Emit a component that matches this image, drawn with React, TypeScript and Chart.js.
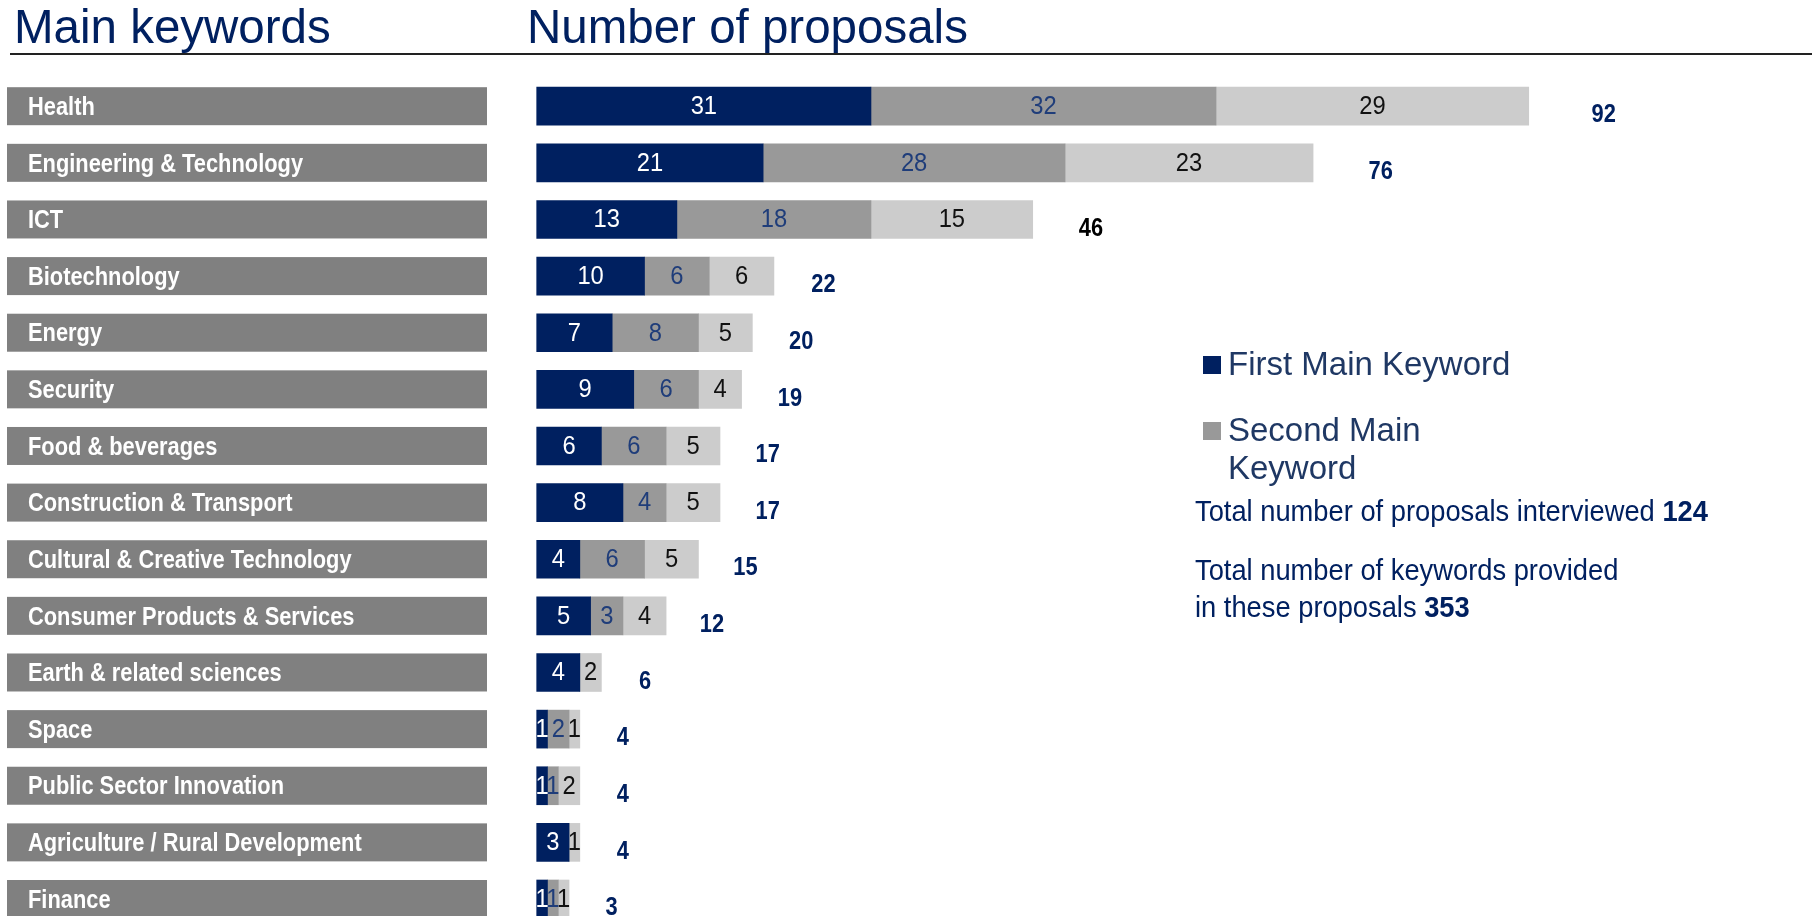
import React, { useEffect, useRef } from 'react';
import { Chart, registerables } from 'chart.js';

Chart.register(...registerables);

const categories = [
  'Health',
  'Engineering & Technology',
  'ICT',
  'Biotechnology',
  'Energy',
  'Security',
  'Food & beverages',
  'Construction & Transport',
  'Cultural & Creative Technology',
  'Consumer Products & Services',
  'Earth & related sciences',
  'Space',
  'Public Sector Innovation',
  'Agriculture / Rural Development',
  'Finance',
];
const firstKeyword = [31, 21, 13, 10, 7, 9, 6, 8, 4, 5, 4, 1, 1, 3, 1];
const secondKeyword = [32, 28, 18, 6, 8, 6, 6, 4, 6, 3, 0, 2, 1, 0, 1];
const thirdKeyword = [29, 23, 15, 6, 5, 4, 5, 5, 5, 4, 2, 1, 2, 1, 1];
const totals = [92, 76, 46, 22, 20, 19, 17, 17, 15, 12, 6, 4, 4, 4, 3];
const seriesNames = ['First Main Keyword', 'Second Main Keyword', 'Third Main Keyword'];
const totalProposals = 124;
const totalKeywords = 353;

const NAVY = '#002060';
const GRAY2 = '#999999';
const GRAY3 = '#cccccc';
const SANS = "'Liberation Sans', Arial, sans-serif";
const NARROW_X = 0.84;
const BLACK_TOTAL_INDEX = 2;

function fillScaled(ctx: CanvasRenderingContext2D, text: string, x: number, y: number, sx: number) {
  ctx.save();
  ctx.translate(x, y);
  ctx.scale(sx, 1);
  ctx.fillText(text, 0, 0);
  ctx.restore();
}

const overlayPlugin = {
  id: 'overlay',
  beforeDatasetsDraw(chart: any) {
    const ctx = chart.ctx as CanvasRenderingContext2D;
    const y = chart.scales.y;
    ctx.save();
    categories.forEach((name, i) => {
      const cy = y.getPixelForValue(i);
      ctx.fillStyle = '#808080';
      ctx.fillRect(7, cy - 19, 480, 38);
      ctx.fillStyle = '#ffffff';
      ctx.font = `bold 26px ${SANS}`;
      ctx.textAlign = 'left';
      ctx.textBaseline = 'middle';
      fillScaled(ctx, name, 28, cy + 1.5, NARROW_X);
    });
    ctx.restore();
  },
  afterDatasetsDraw(chart: any) {
    const ctx = chart.ctx as CanvasRenderingContext2D;
    const labelColors = ['#ffffff', '#1f3d7a', '#111111'];
    ctx.save();
    ctx.textAlign = 'center';
    ctx.textBaseline = 'middle';
    ctx.font = `25px ${SANS}`;
    chart.data.datasets.forEach((ds: any, di: number) => {
      const meta = chart.getDatasetMeta(di);
      meta.data.forEach((bar: any, i: number) => {
        const v = ds.data[i];
        if (!v) return;
        const p = bar.getProps(['x', 'base', 'y'], true);
        ctx.fillStyle = labelColors[di];
        fillScaled(ctx, String(v), (p.x + p.base) / 2, p.y + 1, 0.95);
      });
    });
    const xs = chart.scales.x;
    const ys = chart.scales.y;
    ctx.font = `bold 26px ${SANS}`;
    totals.forEach((t, i) => {
      const sum = firstKeyword[i] + secondKeyword[i] + thirdKeyword[i];
      const end = xs.getPixelForValue(sum);
      const len = end - xs.getPixelForValue(0);
      const px = end + 41.5 + len * 0.0337;
      const py = ys.getPixelForValue(i) + 9;
      ctx.fillStyle = i === BLACK_TOTAL_INDEX ? '#000000' : NAVY;
      fillScaled(ctx, String(t), px, py, NARROW_X);
    });
    ctx.restore();
  },
};

export default function App() {
  const canvasRef = useRef<HTMLCanvasElement | null>(null);

  useEffect(() => {
    document.body.style.margin = '0';
    const canvas = canvasRef.current;
    if (!canvas) return;
    const common = { borderWidth: 0, barThickness: 38, clip: false as any };
    const chart = new Chart(canvas, {
      type: 'bar',
      data: {
        labels: categories,
        datasets: [
          { label: seriesNames[0], data: firstKeyword, backgroundColor: NAVY, ...common },
          { label: seriesNames[1], data: secondKeyword, backgroundColor: GRAY2, ...common },
          { label: seriesNames[2], data: thirdKeyword, backgroundColor: GRAY3, ...common },
        ],
      },
      options: {
        indexAxis: 'y',
        responsive: false,
        animation: false,
        devicePixelRatio: 1,
        layout: { padding: { left: 536.7, right: 197, top: 106.2, bottom: 17 } },
        plugins: { legend: { display: false }, tooltip: { enabled: false } },
        scales: {
          x: { stacked: true, min: 0, max: 100, display: false },
          y: { stacked: true, offset: false, display: false },
        },
      } as any,
      plugins: [overlayPlugin],
    });
    return () => chart.destroy();
  }, []);

  const abs = (o: React.CSSProperties): React.CSSProperties => ({ position: 'absolute', margin: 0, whiteSpace: 'nowrap', ...o });
  const narrow: React.CSSProperties = { transform: 'scaleX(0.91)', transformOrigin: 'left top' };

  return (
    <div style={{ position: 'absolute', left: 0, top: 0, width: 1812, height: 916, overflow: 'hidden', background: '#ffffff' }}>
      <canvas ref={canvasRef} width={1812} height={916} style={{ position: 'absolute', left: 0, top: 0, width: 1812, height: 916 }} />
      <div style={abs({ left: 14, top: 3, fontFamily: SANS, fontSize: 47.5, lineHeight: '47.5px', color: NAVY })}>Main keywords</div>
      <div style={abs({ left: 527, top: 3, fontFamily: SANS, fontSize: 47.5, lineHeight: '47.5px', color: NAVY })}>Number of proposals</div>
      <div style={abs({ left: 10, right: 0, top: 53, height: 2, background: '#222222' })} />

      <div style={abs({ left: 1203, top: 356, width: 18, height: 18, background: NAVY })} />
      <div style={abs({ left: 1228, top: 347, fontFamily: SANS, fontSize: 33, lineHeight: '33px', color: '#1f3864' })}>{seriesNames[0]}</div>
      <div style={abs({ left: 1203, top: 422, width: 18, height: 18, background: GRAY2 })} />
      <div style={abs({ left: 1228, top: 411, width: 250, whiteSpace: 'normal', fontFamily: SANS, fontSize: 33, lineHeight: '38px', color: '#1f3864' })}>{seriesNames[1]}</div>

      <div style={abs({ left: 1195, top: 496.3, fontFamily: SANS, fontSize: 30, lineHeight: '30px', color: NAVY, ...narrow })}>
        Total number of proposals interviewed <b>{totalProposals}</b>
      </div>
      <div style={abs({ left: 1195, top: 551.1, fontFamily: SANS, fontSize: 30, lineHeight: '37px', color: NAVY, ...narrow })}>
        Total number of keywords provided
        <br />
        in these proposals <b>{totalKeywords}</b>
      </div>
    </div>
  );
}
